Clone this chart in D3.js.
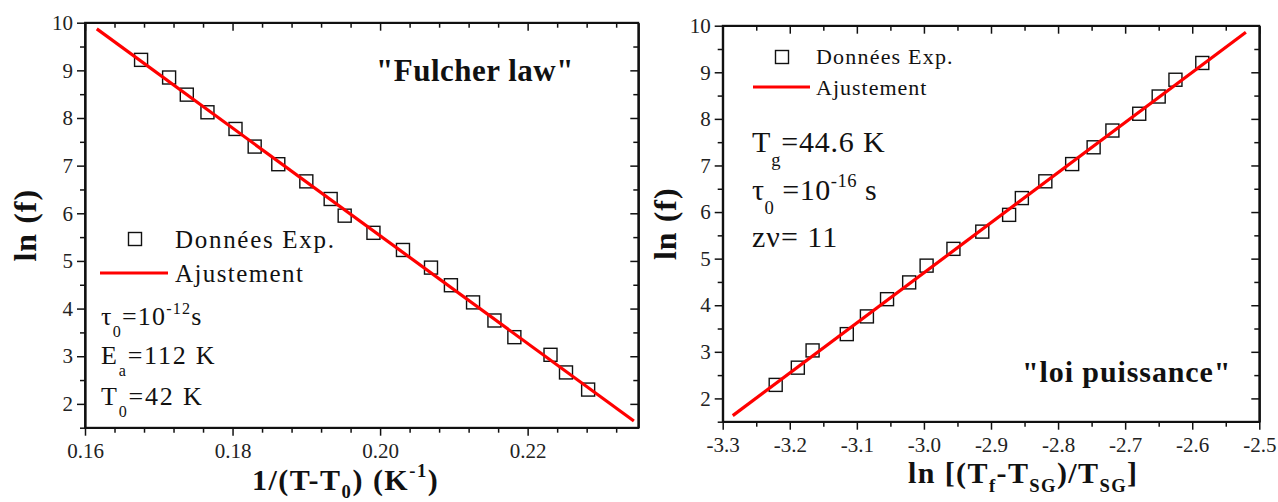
<!DOCTYPE html>
<html>
<head>
<meta charset="utf-8">
<script src="https://cdn.jsdelivr.net/npm/d3@7"></script>
<style>
  html, body { margin: 0; padding: 0; background: #fff; }
  svg text { font-family: "Liberation Serif", "DejaVu Serif", serif; }
</style>
</head>
<body>
<svg id="chart" width="1278" height="502"></svg>
<script>
// ---------- Data ----------
// Left panel: Fulcher law
const fulcherX = [0.1676, 0.1714, 0.1738, 0.1766, 0.1804, 0.1830, 0.1862, 0.1900, 0.1933, 0.1952,
                  0.1991, 0.2031, 0.2069, 0.2096, 0.2126, 0.2155, 0.2182, 0.2231, 0.2252, 0.2282];
const fulcherY = [9.22, 8.85, 8.49, 8.12, 7.77, 7.40, 7.03, 6.67, 6.30, 5.95,
                  5.59, 5.23, 4.86, 4.49, 4.13, 3.75, 3.40, 3.03, 2.66, 2.30];
const fulcherFitX = [0.1616, 0.2344];
const fulcherFitY = [9.87, 1.64];
const fulcherXDomain = [0.16, 0.235];
const fulcherXMajor = [0.16, 0.18, 0.20, 0.22];

// Right panel: power law
const powerX = [-3.221, -3.188, -3.166, -3.115, -3.085, -3.055, -3.022, -2.996, -2.956, -2.913,
                -2.873, -2.854, -2.819, -2.779, -2.747, -2.719, -2.679, -2.650, -2.625, -2.585];
const powerY = [2.29, 2.66, 3.03, 3.38, 3.76, 4.13, 4.49, 4.85, 5.21, 5.58,
                5.94, 6.30, 6.66, 7.03, 7.39, 7.75, 8.11, 8.48, 8.84, 9.20];
const powerFitX = [-3.285, -2.520];
const powerFitY = [1.63, 9.86];
const powerXDomain = [-3.3, -2.5];
const powerXMajor = [-3.3, -3.2, -3.1, -3.0, -2.9, -2.8, -2.7, -2.6, -2.5];

const yDomain = [1.5, 10];
const yMajor = [2, 3, 4, 5, 6, 7, 8, 9, 10];

const legendLabels = ["Données Exp.", "Ajustement"];

// ---------- Drawing ----------
const svg = d3.select("#chart");
const FONT = '"Liberation Serif", "DejaVu Serif", serif';

function rich(g, x, y, parts, size, opts = {}) {
  const t = g.append("text")
    .attr("x", x).attr("y", y)
    .attr("font-family", FONT)
    .attr("font-size", size)
    .attr("font-weight", opts.weight || "normal")
    .attr("text-anchor", opts.anchor || "start")
    .attr("letter-spacing", opts.ls || 0)
    .attr("fill", "#111");
  if (opts.transform) t.attr("transform", opts.transform);
  const subK = opts.subK == null ? 0.45 : opts.subK;
  let shift = 0;
  parts.forEach(p => {
    const [txt, kind] = Array.isArray(p) ? p : [p, "n"];
    let target = 0, fs = size;
    if (kind === "sub") { target = size * subK; fs = size * 0.62; }
    if (kind === "sup") { target = -size * 0.42; fs = size * 0.62; }
    t.append("tspan")
      .attr("dy", target - shift)
      .attr("font-size", fs)
      .text(txt);
    shift = target;
  });
  return t;
}

function panel(box, xDomain, xMajor, xMinorStep, xFmt, ys, xs, fitX, fitY) {
  const g = svg.append("g");
  const x = d3.scaleLinear().domain(xDomain).range([box.x0, box.x1]);
  const y = d3.scaleLinear().domain(yDomain).range([box.y1, box.y0]);

  const xMinor = d3.range(xDomain[0], xDomain[1] + 1e-9, xMinorStep)
    .filter(v => !xMajor.some(m => Math.abs(m - v) < 1e-9));
  const yMinor = d3.range(1.5, 10.01, 0.5).filter(v => Math.abs(v - Math.round(v)) > 1e-9);

  const MAJ = 8, MIN = 5;
  const add = (tr, ax) => g.append("g").attr("transform", tr).call(ax);
  add(`translate(0,${box.y1})`, d3.axisBottom(x).tickValues(xMajor).tickFormat(xFmt).tickSizeInner(MAJ).tickSizeOuter(0).tickPadding(7));
  add(`translate(0,${box.y1})`, d3.axisBottom(x).tickValues(xMinor).tickFormat("").tickSizeInner(MIN).tickSizeOuter(0));
  add(`translate(0,${box.y0})`, d3.axisBottom(x).tickValues(xMajor).tickFormat("").tickSizeInner(MAJ).tickSizeOuter(0));
  add(`translate(0,${box.y0})`, d3.axisBottom(x).tickValues(xMinor).tickFormat("").tickSizeInner(MIN).tickSizeOuter(0));
  add(`translate(${box.x0},0)`, d3.axisLeft(y).tickValues(yMajor).tickFormat(d3.format("d")).tickSizeInner(MAJ).tickSizeOuter(0).tickPadding(4));
  add(`translate(${box.x0},0)`, d3.axisLeft(y).tickValues(yMinor).tickFormat("").tickSizeInner(MIN).tickSizeOuter(0));
  add(`translate(${box.x1},0)`, d3.axisLeft(y).tickValues(yMajor).tickFormat("").tickSizeInner(MAJ).tickSizeOuter(0));
  add(`translate(${box.x1},0)`, d3.axisLeft(y).tickValues(yMinor).tickFormat("").tickSizeInner(MIN).tickSizeOuter(0));

  g.selectAll("g").attr("font-family", FONT);
  g.selectAll(".domain").attr("stroke", "#111").attr("stroke-width", 1.8);
  g.selectAll(".tick line").attr("stroke", "#111").attr("stroke-width", 1.5);
  g.selectAll(".tick text").attr("font-family", FONT).attr("font-size", 21).attr("fill", "#222");

  g.append("rect").attr("x", box.x0).attr("y", box.y0)
    .attr("width", box.x1 - box.x0).attr("height", box.y1 - box.y0)
    .attr("fill", "none").attr("stroke", "#111").attr("stroke-width", 1.8);

  const S = 13;
  g.append("g").selectAll("rect").data(xs.map((v, i) => [v, ys[i]])).join("rect")
    .attr("x", d => x(d[0]) - S / 2).attr("y", d => y(d[1]) - S / 2)
    .attr("width", S).attr("height", S)
    .attr("fill", "none").attr("stroke", "#111").attr("stroke-width", 1.4);

  g.append("path")
    .datum(fitX.map((v, i) => [v, fitY[i]]))
    .attr("d", d3.line().x(d => x(d[0])).y(d => y(d[1])))
    .attr("fill", "none").attr("stroke", "#ff0000").attr("stroke-width", 3.2);

  return { g, x, y };
}

const L = { x0: 85, x1: 638.3, y0: 22.7, y1: 427.7 };
const R = { x0: 722.7, x1: 1259.3, y0: 25.7, y1: 421.7 };

const left = panel(L, fulcherXDomain, fulcherXMajor, 0.004, d3.format(".2f"), fulcherY, fulcherX, fulcherFitX, fulcherFitY);
const right = panel(R, powerXDomain, powerXMajor, 0.05, d => d3.format(".1f")(d).replace("−", "-"), powerY, powerX, powerFitX, powerFitY);

// ----- Left panel texts -----
const gl = left.g;
const lcy = (L.y0 + L.y1) / 2;
rich(gl, 36, lcy, ["ln (f)"], 32, { weight: "bold", anchor: "middle", ls: 1, transform: `rotate(-90,36,${lcy})` });
rich(gl, 252, 490, ["1/(T-T", ["0", "sub"], ") (K", ["-1", "sup"], [")", "n"]], 30, { weight: "bold", subK: 0.28, ls: 1.5 });
rich(gl, 376, 81, ['"Fulcher law"'], 31, { weight: "bold", ls: 0.5 });

gl.append("rect").attr("x", 135 - 6.5).attr("y", 239 - 6.5).attr("width", 13).attr("height", 13)
  .attr("fill", "none").attr("stroke", "#111").attr("stroke-width", 1.4);
rich(gl, 175, 248, [legendLabels[0]], 25, { ls: 1.7 });
gl.append("line").attr("x1", 100).attr("x2", 168).attr("y1", 273).attr("y2", 273)
  .attr("stroke", "#ff0000").attr("stroke-width", 3.2);
rich(gl, 175, 282, [legendLabels[1]], 25, { ls: 1.4 });

rich(gl, 101, 325, ["τ", ["0", "sub"], ["=10", "n"], ["-12", "sup"], ["s", "n"]], 26, { ls: 1.2 });
rich(gl, 101, 364, ["E", ["a", "sub"], ["=112 K", "n"]], 26, { ls: 1.8 });
rich(gl, 101, 405, ["T", ["0", "sub"], ["=42 K", "n"]], 26, { ls: 1.8 });

// ----- Right panel texts -----
const gr = right.g;
const rcy = (R.y0 + R.y1) / 2;
rich(gr, 676, rcy, ["ln (f)"], 32, { weight: "bold", anchor: "middle", ls: 1, transform: `rotate(-90,676,${rcy})` });
rich(gr, 908, 483, ["ln [(T", ["f", "sub"], ["-T", "n"], ["SG", "sub"], [")/T", "n"], ["SG", "sub"], ["]", "n"]], 30, { weight: "bold", subK: 0.3, ls: 1.4 });
rich(gr, 1022, 382, ['"loi puissance"'], 30, { weight: "bold", ls: 0.9 });

gr.append("rect").attr("x", 782 - 6.5).attr("y", 57 - 6.5).attr("width", 13).attr("height", 13)
  .attr("fill", "none").attr("stroke", "#111").attr("stroke-width", 1.4);
rich(gr, 816, 64, [legendLabels[0]], 22, { ls: 1.2 });
gr.append("line").attr("x1", 753).attr("x2", 810).attr("y1", 87).attr("y2", 87)
  .attr("stroke", "#ff0000").attr("stroke-width", 3.2);
rich(gr, 816, 95, [legendLabels[1]], 22, { ls: 1.0 });

rich(gr, 752, 152, ["T", ["g", "sub"], ["=44.6 K", "n"]], 30, { ls: 0.8 });
rich(gr, 752, 200, ["τ", ["0", "sub"], [" =10", "n"], ["-16", "sup"], [" s", "n"]], 30, { ls: 0.5 });
rich(gr, 752, 247, ["zν= 11"], 30, { ls: 1 });
</script>
</body>
</html>
